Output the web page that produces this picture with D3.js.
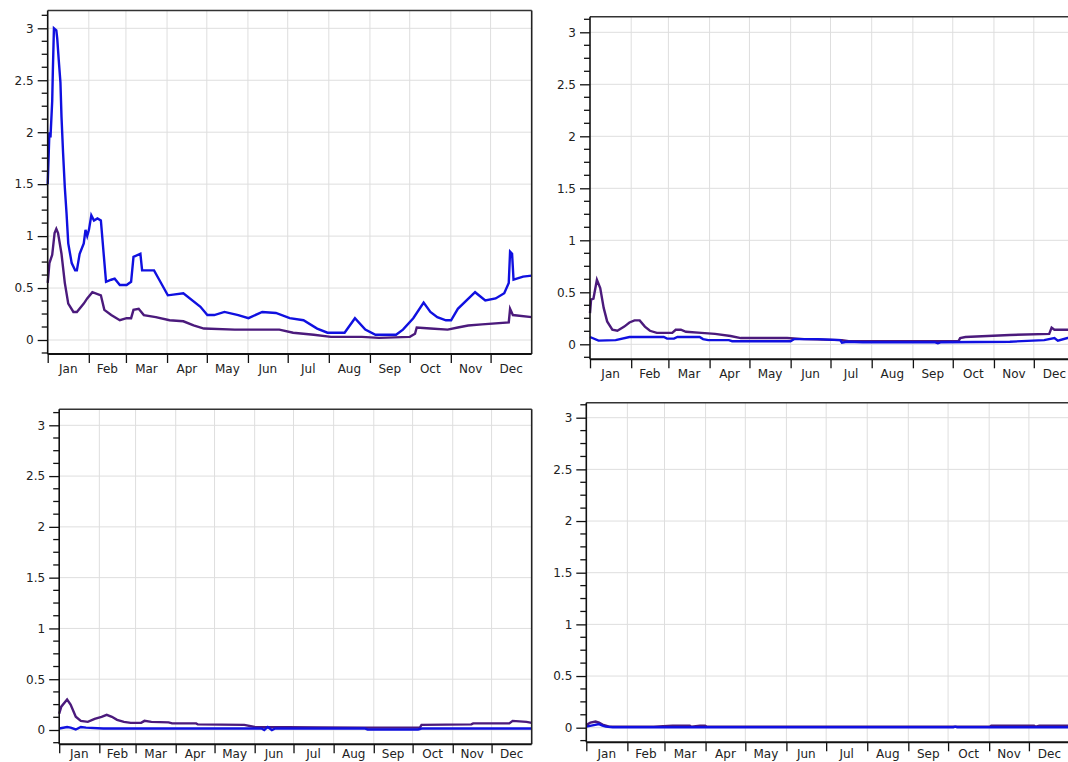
<!DOCTYPE html>
<html>
<head>
<meta charset="utf-8">
<script src="https://cdn.jsdelivr.net/npm/d3@7"></script>
<style>
  html, body { margin: 0; padding: 0; background: #fff; }
  svg { display: block; }
  text { font-family: "DejaVu Sans", Verdana, sans-serif; font-size: 12px; fill: #222; }
</style>
</head>
<body>
<svg id="chart" width="1068" height="762"></svg>
<script>
// ---------- data ----------
const months = ["Jan","Feb","Mar","Apr","May","Jun","Jul","Aug","Sep","Oct","Nov","Dec"];
const monthStarts = [0,31,59,90,120,151,181,212,243,273,304,334];
const yearDays = 365;
const yMajorTicks = [0, 0.5, 1, 1.5, 2, 2.5, 3];
const yTickLabels = ["0","0.5","1","1.5","2","2.5","3"];

// [day of year, value]
const p1Blue = [[0,1.5],[1.3,2.0],[2.1,1.95],[3.4,2.3],[3.9,2.6],[4.7,3.0],[6.5,2.98],[7.2,2.9],[8.3,2.7],[9.6,2.48],[10.4,2.15],[11.6,1.8],[12.9,1.47],[14.2,1.22],[15.5,0.93],[18.1,0.74],[20.7,0.67],[22,0.67],[24.1,0.83],[27.2,0.93],[28.5,1.06],[29.8,1.0],[31.1,1.06],[32.9,1.2],[34.9,1.15],[37.5,1.17],[40.1,1.15],[42.2,0.83],[44,0.56],[47.9,0.58],[50.5,0.59],[54.4,0.53],[59.5,0.53],[62.9,0.56],[64.7,0.8],[69.9,0.83],[71.2,0.67],[80.2,0.67],[84.1,0.58],[90.6,0.43],[102.3,0.45],[115.2,0.32],[120.4,0.24],[125.6,0.24],[133.3,0.27],[143.7,0.24],[151.4,0.21],[161.8,0.27],[172.1,0.26],[182.5,0.21],[192.9,0.19],[203.2,0.11],[211,0.07],[223.9,0.07],[231.7,0.21],[239.5,0.10],[247.2,0.05],[262.7,0.05],[267.9,0.10],[275.7,0.21],[283.5,0.36],[288.6,0.27],[293.8,0.22],[300.3,0.19],[304.2,0.19],[309.3,0.30],[322.3,0.46],[330,0.38],[337.8,0.40],[344.3,0.45],[347.7,0.55],[348.7,0.85],[350.2,0.83],[351.3,0.58],[358.5,0.61],[365,0.62]];
const p1Purple = [[0,0.55],[1.3,0.74],[3.4,0.82],[5.2,1.03],[6.5,1.07],[7.8,1.03],[10.4,0.83],[12.9,0.55],[15.5,0.35],[19.4,0.27],[22,0.27],[27.2,0.35],[29.8,0.40],[33.7,0.46],[40.1,0.43],[42.7,0.29],[47.9,0.24],[54.4,0.19],[59.5,0.21],[62.9,0.21],[64.7,0.29],[68.6,0.30],[72.5,0.24],[81.5,0.22],[91.9,0.19],[102.3,0.18],[110,0.14],[117.8,0.11],[141.1,0.10],[174.7,0.10],[185.1,0.07],[200.6,0.05],[213.6,0.03],[236.9,0.03],[249.8,0.02],[273.1,0.03],[277,0.06],[278.3,0.12],[288.6,0.11],[301.6,0.10],[309.3,0.12],[317.1,0.14],[327.5,0.15],[347.7,0.17],[348.7,0.30],[350.8,0.24],[365,0.22]];

const p2Blue = [[0,0.07],[6.4,0.035],[19.3,0.04],[29.7,0.07],[55.5,0.07],[58,0.055],[63.2,0.055],[65.8,0.07],[82.5,0.07],[85.1,0.05],[89,0.04],[104.5,0.04],[107,0.03],[150.9,0.03],[153.5,0.05],[171.5,0.05],[188.3,0.04],[189.6,0.015],[193.4,0.025],[205.1,0.02],[259.2,0.02],[261.8,0.01],[264.4,0.02],[316,0.025],[341.8,0.04],[349.5,0.06],[352.1,0.035],[359.3,0.06],[365,0.06]];
const p2Purple = [[0,0.30],[0.8,0.43],[2.6,0.44],[5.2,0.62],[7.7,0.54],[10.3,0.35],[12.9,0.22],[16.8,0.14],[20.6,0.13],[25.8,0.17],[29.7,0.21],[33.5,0.23],[37.4,0.23],[41.3,0.17],[45.1,0.13],[50.3,0.11],[61.9,0.11],[64.5,0.14],[68.4,0.14],[72.2,0.12],[83.8,0.11],[94.1,0.10],[105.8,0.08],[113.5,0.06],[148.3,0.06],[161.2,0.05],[189.6,0.04],[194.7,0.03],[277.3,0.03],[278.6,0.06],[282.5,0.07],[316,0.09],[345.6,0.10],[347.4,0.16],[349.5,0.14],[365,0.14]];

const p3Blue = [[0,0.015],[6.1,0.03],[8.8,0.023],[12.8,0.005],[16.7,0.03],[20.7,0.023],[34,0.015],[156.3,0.015],[158.4,0.0],[161.1,0.03],[164.3,0.0],[166.9,0.015],[236,0.015],[238.2,0.005],[267.9,0.005],[277.2,0.005],[279.9,0.015],[365,0.015]];
const p3Purple = [[0,0.16],[1.6,0.23],[6.1,0.30],[8.8,0.25],[12.8,0.13],[16.7,0.09],[22.1,0.08],[27.4,0.11],[32.7,0.13],[36.7,0.15],[40.7,0.13],[44.7,0.10],[50,0.08],[55.3,0.07],[63.3,0.07],[65.9,0.09],[71.2,0.08],[84.5,0.075],[87.2,0.065],[105.8,0.065],[107.1,0.055],[143,0.05],[151,0.03],[201.5,0.025],[236,0.023],[278.6,0.023],[279.9,0.05],[318.4,0.055],[319.8,0.065],[347.7,0.065],[350.3,0.09],[361,0.08],[365,0.07]];

const p4Blue = [[0,0.01],[5.7,0.025],[9.6,0.035],[12.2,0.02],[14.7,0.01],[19.9,0.005],[277,0.005],[278.4,0.01],[279.8,0.005],[365,0.005]];
const p4Purple = [[0,0.025],[3.1,0.05],[7,0.06],[9.6,0.05],[12.2,0.03],[17.3,0.01],[50.9,0.01],[65.1,0.02],[78.1,0.02],[79.4,0.01],[85.8,0.02],[89.7,0.02],[91,0.01],[304.3,0.01],[305.6,0.02],[337.9,0.02],[339.2,0.01],[341.8,0.02],[365,0.02]];

// ---------- layout ----------
const panels = [
  { box: {left: 47.7, right: 531.7, top: 10.5, bottom: 354}, y0: 340, y3: 28.3, labelDy: 18.5, blue: p1Blue, purple: p1Purple },
  { box: {left: 590, right: 1075, top: 16.7, bottom: 359.3}, y0: 344.3, y3: 32.3, labelDy: 18.5, blue: p2Blue, purple: p2Purple },
  { box: {left: 59.2, right: 531.7, top: 409.3, bottom: 744.3}, y0: 730, y3: 425.3, labelDy: 14, blue: p3Blue, purple: p3Purple },
  { box: {left: 586.3, right: 1070, top: 402.7, bottom: 742.3}, y0: 727.7, y3: 417.7, labelDy: 16, blue: p4Blue, purple: p4Purple }
];

const blueColor = "#1010e0";
const purpleColor = "#4b1a7c";
const svg = d3.select("#chart");

panels.forEach(p => {
  const b = p.box;
  const g = svg.append("g");
  const x = d3.scaleLinear().domain([0, yearDays]).range([b.left, b.right]);
  const y = d3.scaleLinear().domain([0, 3]).range([p.y0, p.y3]);

  // gridlines
  g.append("g").selectAll("line").data(yMajorTicks).join("line")
    .attr("x1", b.left).attr("x2", b.right)
    .attr("y1", d => y(d)).attr("y2", d => y(d))
    .attr("stroke", "#dedede").attr("stroke-width", 1);
  g.append("g").selectAll("line").data(monthStarts.slice(1)).join("line")
    .attr("x1", d => x(d)).attr("x2", d => x(d))
    .attr("y1", b.top).attr("y2", b.bottom)
    .attr("stroke", "#dedede").attr("stroke-width", 1);

  // lines
  const line = d3.line().x(d => x(d[0])).y(d => y(d[1]));
  g.append("path").datum(p.purple).attr("d", line)
    .attr("fill", "none").attr("stroke", purpleColor).attr("stroke-width", 2.4)
    .attr("stroke-linejoin", "miter");
  g.append("path").datum(p.blue).attr("d", line)
    .attr("fill", "none").attr("stroke", blueColor).attr("stroke-width", 2.4)
    .attr("stroke-linejoin", "miter");

  // frame
  g.append("line").attr("x1", b.left).attr("x2", b.right).attr("y1", b.top).attr("y2", b.top)
    .attr("stroke", "#333").attr("stroke-width", 1.6);
  g.append("line").attr("x1", b.right).attr("x2", b.right).attr("y1", b.top).attr("y2", b.bottom)
    .attr("stroke", "#222").attr("stroke-width", 1.6);

  // y axis
  const yAxis = d3.axisLeft(y).tickValues(yMajorTicks)
    .tickFormat((d, i) => yTickLabels[i]).tickSize(10).tickPadding(4);
  const ya = g.append("g").attr("transform", `translate(${b.left},0)`).call(yAxis);
  ya.select(".domain").remove();
  ya.selectAll(".tick line").attr("stroke", "#111").attr("stroke-width", 1.3);
  ya.selectAll(".tick text").attr("fill", "#222")
    .style("font-family", '"DejaVu Sans", Verdana, sans-serif').style("font-size", "12px");
  const minor = d3.range(-1, 26).map(i => i * 0.125).filter(v => Math.abs(v * 2 - Math.round(v * 2)) > 1e-6);
  g.append("g").selectAll("line").data(minor).join("line")
    .attr("x1", b.left - 6).attr("x2", b.left)
    .attr("y1", d => y(d)).attr("y2", d => y(d))
    .attr("stroke", "#111").attr("stroke-width", 1.3);
  g.append("line").attr("x1", b.left).attr("x2", b.left).attr("y1", b.top).attr("y2", b.bottom)
    .attr("stroke", "#111").attr("stroke-width", 1.6);

  // x axis
  const xAxis = d3.axisBottom(x).tickValues(monthStarts).tickFormat("").tickSize(9);
  const xa = g.append("g").attr("transform", `translate(0,${b.bottom})`).call(xAxis);
  xa.select(".domain").remove();
  xa.selectAll(".tick line").attr("stroke", "#111").attr("stroke-width", 1.3);
  g.append("line").attr("x1", b.left).attr("x2", b.right).attr("y1", b.bottom).attr("y2", b.bottom)
    .attr("stroke", "#111").attr("stroke-width", 2);
  g.append("g").selectAll("text").data(months).join("text")
    .attr("x", (d, i) => x(((monthStarts[i]) + (i < 11 ? monthStarts[i + 1] : yearDays)) / 2))
    .attr("y", b.bottom + p.labelDy)
    .attr("text-anchor", "middle")
    .text(d => d);
});
</script>
</body>
</html>
